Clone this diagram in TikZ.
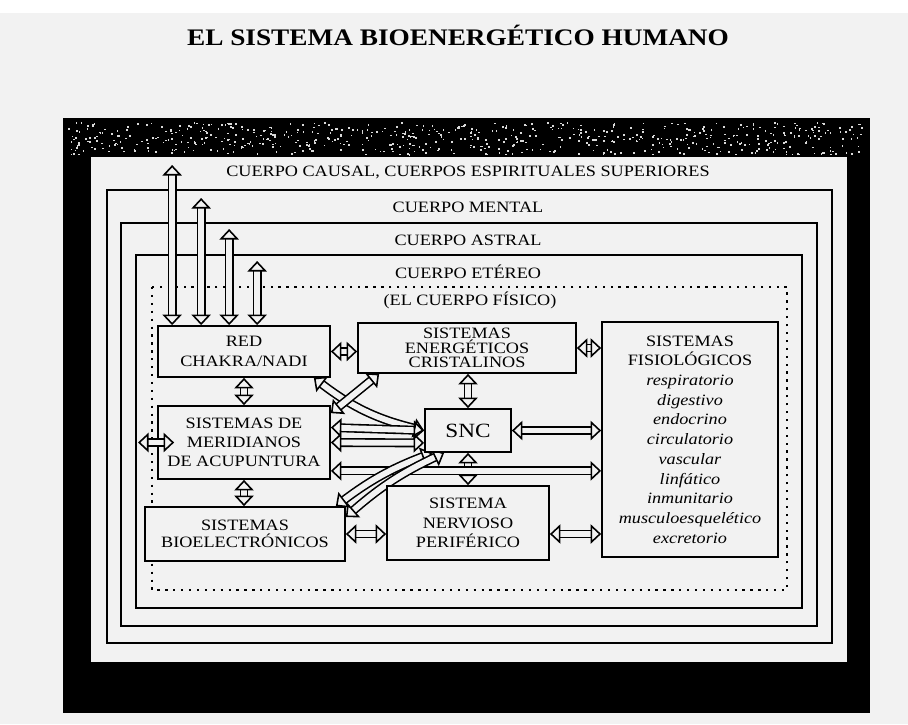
\documentclass[tikz,border=0pt]{standalone}
\usepackage{fontspec}
\setmainfont{Liberation Serif}[FakeStretch=1.15]
\usetikzlibrary{calc, positioning, arrows.meta}
\definecolor{papel}{HTML}{F2F2F2}
\pgfdeclarelayer{fondo}
\pgfdeclarelayer{medio}
\pgfsetlayers{fondo,medio,main}

\begin{document}
\begin{tikzpicture}[
    x=0.02cm, y=-0.02cm,
    every node/.style={inner sep=0pt, align=center},
    capa/.style={line width=1pt},
    fisico/.style={line width=1.3pt, dash pattern=on 1.3pt off 3.2pt},
    rotulo/.style={font=\fontsize{9}{11}\selectfont},
    caja/.style={draw, line width=1pt, fill=papel, font=\fontsize{9}{11}\selectfont},
    hueca/.style={line width=0.9pt, double=papel, double distance=3.3pt,
                  {Triangle[open, length=6pt, width=11pt]}-{Triangle[open, length=6pt, width=11pt]}}
  ]
  \useasboundingbox (0,0) rectangle (908,724);

  \begin{pgfonlayer}{fondo}
    \fill[papel] (0,0) rectangle (908,724);
    \fill[white] (0,0) rectangle (908,13);
    \fill[black] (63,118) rectangle (870,713);
    \fill[papel] (91,157) rectangle (847,662);
    % ruido del escaneo
    \pgfmathsetseed{11}
    \foreach \i in {1,...,650}
      \fill[white!85!black] (66+800*rnd, 122+32*rnd) rectangle ++(1.6,1.6);
    % cuerpos sutiles
    \draw[capa] (107,190) rectangle (832,643);
    \draw[capa] (121,223) rectangle (817,626);
    \draw[capa] (136,255) rectangle (802,608);
    \draw[fisico] (152,287) rectangle (787,590);
  \end{pgfonlayer}

  \node[font=\fontsize{13.5}{15}\selectfont\bfseries] (titulo) at (458,35) {EL SISTEMA BIOENERGÉTICO HUMANO};

  \node[rotulo] (causal-t) at (468,172) {CUERPO CAUSAL, CUERPOS ESPIRITUALES SUPERIORES};
  \node[rotulo] (mental-t) at (468,207) {CUERPO MENTAL};
  \node[rotulo] (astral-t) at (468,240) {CUERPO ASTRAL};
  \node[rotulo] (etereo-t) at (468,272) {CUERPO ETÉREO};
  \node[rotulo] (fisico-t) at (470,300) {(EL CUERPO FÍSICO)};

  % puntas de las flechas verticales
  \coordinate (causal) at (0,165);
  \coordinate (mental) at (0,198);
  \coordinate (astral) at (0,229);
  \coordinate (etereo) at (0,261);

  \node[caja, minimum width=3.44cm, minimum height=1.02cm] (red) at (244,351.5) {RED\\CHAKRA/NADI};
  \node[caja, minimum width=4.36cm, minimum height=1cm, font=\fontsize{9}{8.3}\selectfont] (ener) at (467,348) {SISTEMAS\\ENERGÉTICOS\\CRISTALINOS};
  \node[caja, minimum width=3.52cm, minimum height=4.7cm, font=\fontsize{9}{11.2}\selectfont] (fis) at (690,439.5)
    {SISTEMAS\\FISIOLÓGICOS\\\textit{respiratorio}\\\textit{digestivo}\\\textit{endocrino}\\\textit{circulatorio}\\
     \textit{vascular}\\\textit{linfático}\\\textit{inmunitario}\\\textit{musculoesquelético}\\\textit{excretorio}};
  \node[caja, minimum width=3.44cm, minimum height=1.46cm] (meri) at (244,442.5) {SISTEMAS DE\\MERIDIANOS\\DE ACUPUNTURA};
  \node[caja, minimum width=1.72cm, minimum height=0.86cm, font=\fontsize{11.5}{13}\selectfont] (snc) at (468,430.5) {SNC};
  \node[caja, minimum width=4cm, minimum height=1.08cm, font=\fontsize{9}{9.8}\selectfont] (bio) at (245,534) {SISTEMAS\\BIOELECTRÓNICOS};
  \node[caja, minimum width=3.24cm, minimum height=1.48cm] (ner) at (468,523) {SISTEMA\\NERVIOSO\\PERIFÉRICO};

  \begin{pgfonlayer}{medio}
    \foreach \dx/\tope in {15/causal, 44/mental, 72/astral, 100/etereo}
      \draw[hueca] ($(red.north west)+(\dx,0)$) coordinate (pie) -- (pie |- \tope);

    \draw[hueca] (red.east) -- (red.east -| ener.west);
    \draw[hueca] (ener.east) -- (ener.east -| fis.west);
    \draw[hueca] (red.south) -- (red.south |- meri.north);
    \draw[hueca] (meri.south) -- (meri.south |- bio.north);
    \draw[hueca] (snc.north |- ener.south) -- (snc.north);
    \draw[hueca] (snc.east) -- (snc.east -| fis.west);
    \draw[hueca] (snc.south) -- (snc.south |- ner.north);
    \draw[hueca] ($(meri.south east)+(0,-9)$) coordinate (larga) -- (larga -| fis.west);
    \draw[hueca] ($(ner.east)+(0,11)$) coordinate (nf) -- (nf -| fis.west);
    \draw[hueca] (bio.east) -- (bio.east -| ner.west);

    % abanico hacia el SNC
    \draw[hueca] ($(red.south east)+(-17,0)$) to[bend right=12] (snc.west);
    \draw[hueca] ($(meri.north east)+(0,8)$) -- ($(ener.south west)+(22,0)$);
    \draw[hueca] ($(meri.east)+(0,-15)$) -- (snc.west);
    \draw[hueca] (meri.east) -- ($(snc.south west)+(0,-10)$);
    \draw[hueca] ($(bio.north east)+(-10,0)$) to[bend left=8] ($(snc.south west)+(8,0)$);
    \draw[hueca] ($(bio.east)+(0,-17)$) to[bend left=8] ($(snc.south west)+(20,0)$);
  \end{pgfonlayer}

  \coordinate (fuera) at (138,442.5);
  \draw[hueca] (fuera) -- ($(meri.west)+(17,0)$);
\end{tikzpicture}
\end{document}
